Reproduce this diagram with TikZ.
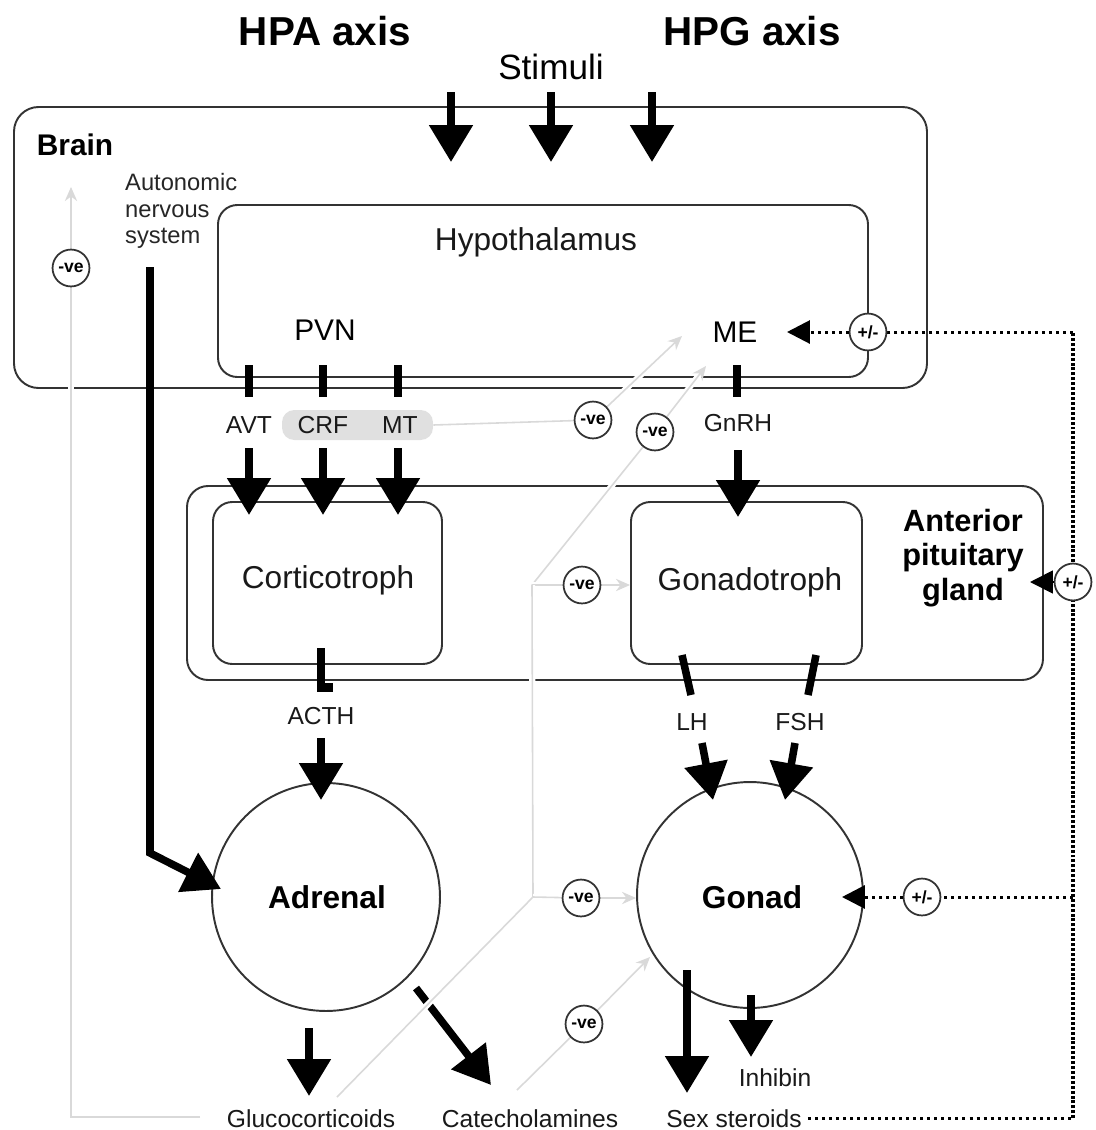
\documentclass[tikz,border=0pt]{standalone}
\usepackage{fontspec}
\setmainfont{Liberation Sans}
\usetikzlibrary{arrows.meta,fit}
\pgfdeclarelayer{bg}
\pgfdeclarelayer{fbl}
\pgfsetlayers{bg,fbl,main}
\begin{document}
\begin{tikzpicture}[x=0.02cm,y=-0.02cm,
  box/.style={draw=black!80, line width=1.1pt, rounded corners=11pt, inner sep=0pt},
  organ/.style={circle, draw=black!80, line width=1.1pt, inner sep=0pt, minimum size=4.56cm},
  bigarr/.style={line width=4.3pt, -{Triangle[width=24pt,length=21pt]}},
  barline/.style={line width=4.3pt},
  sig/.style={circle, draw=black!80, line width=1pt, fill=white, inner sep=0pt, minimum size=21pt, font=\bfseries\fontsize{10}{10}\selectfont},
  fb/.style={draw=black!15, line width=0.9pt, preaction={draw=white, line width=3.5pt, arrows=-}},
  fbarr/.style={fb, -{Stealth[length=8pt,width=7pt]}},
  hdots/.style={line width=1.7pt, dash pattern=on 1.7pt off 2.3pt},
  vdots/.style={line width=2.3pt, dash pattern=on 1.7pt off 1.1pt},
  dtip/.style={-{Triangle[width=13pt,length=13pt]}},
  title/.style={font=\bfseries\fontsize{23}{26}\selectfont},
  lab/.style={font=\fontsize{14}{16}\selectfont, text=black!90},
  mid/.style={font=\fontsize{18}{21}\selectfont, text=black!90},
  organlbl/.style={font=\bfseries\fontsize{18}{20}\selectfont},
]
\useasboundingbox (0,0) rectangle (1096,1130);

% ---------- titles ----------
\node[title] (hpa) at (325,31) {HPA axis};
\node[title] (hpg) at (752,31) {HPG axis};
\node[font=\fontsize{20}{24}\selectfont] (stim) at (551,67) {Stimuli};

% ---------- labels ----------
\node[font=\bfseries\fontsize{17}{20}\selectfont] (brainlbl) at (75,145) {Brain};
\node[anchor=west, align=left, font=\fontsize{13.5}{15}\selectfont, text=black!85] (ans) at (119,211) {Autonomic\\nervous\\system};
\node[mid] (hypolbl) at (536,242) {Hypothalamus};
\node[font=\fontsize{17}{20}\selectfont] (pvn) at (325,330) {PVN};
\node[font=\fontsize{17}{20}\selectfont] (me) at (735,332) {ME};
\node[lab] (avt) at (249,425) {AVT};
\node[lab] (crf) at (323,425) {CRF};
\node[lab] (mt) at (400,425) {MT};
\node[lab] (gnrh) at (738,423) {GnRH};
\node[mid] (corttxt) at (328,580) {Corticotroph};
\node[mid] (gtxt) at (750,582) {Gonadotroph};
\node[font=\bfseries\fontsize{17.5}{19.5}\selectfont, align=center] (apg) at (963,558) {Anterior\\pituitary\\gland};
\node[lab] (acth) at (321,716) {ACTH};
\node[lab] (lh) at (692,722) {LH};
\node[lab] (fsh) at (800,722) {FSH};
\node[organlbl] (adrtxt) at (327,897) {Adrenal};
\node[organlbl] (gontxt) at (752,897) {Gonad};
\node[lab, anchor=base] (gluco) at (311,1127) {Glucocorticoids};
\node[lab, anchor=base] (catech) at (530,1127) {Catecholamines};
\node[lab, anchor=base] (sexst) at (734,1127) {Sex steroids};
\node[lab] (inh) at (775,1078) {Inhibin};

% ---------- sign circles ----------
\node[sig] (n0) at (71,268) {-ve};
\node[sig] (n1) at (593,420) {-ve};
\node[sig] (n2) at (655,432) {-ve};
\node[sig] (n3) at (582,585) {-ve};
\node[sig] (n4) at (581,898) {-ve};
\node[sig] (n5) at (584,1024) {-ve};
\node[sig] (pm1) at (868,332) {+/-};
\node[sig] (pm2) at (1073,582) {+/-};
\node[sig] (pm3) at (922,897) {+/-};

% ---------- boxes and dotted trunk (background layer) ----------
\coordinate (c2) at (1073,332);
\coordinate (c3) at (1073,897);
\coordinate (cat0) at (416,988);
\coordinate (cat1) at (491,1085);
\begin{pgfonlayer}{bg}
\node[box, rounded corners=14pt, fit={(14,107) (927,388)}] (brain) {};
\node[box, fit={(218,205) (868,377)}] (hypo) {};
\node[box, rounded corners=12pt, fit={(187,486) (1043,680)}] (pit) {};
\node[box, fit={(213,502) (442,664)}] (cort) {};
\node[box, fit={(631,502) (862,664)}] (gtroph) {};
\node[organ] (adrenal) at (326,897) {};
\node[organ, minimum size=4.52cm] (gonad) at (750,895) {};
\node[fill=black!12, rounded corners=7pt, inner sep=0pt, fit={(282,410) (433,440)}] (hl) {};
\draw[bigarr] (cat0) -- (cat1);
\draw[hdots] (sexst.east) -- (sexst.east -| c2);
\draw[vdots] (sexst.east -| c2) -- (c2);
\draw[hdots] (c2) -- (pm1);
\draw[hdots] (c3) -- (pm3);
\end{pgfonlayer}

% ---------- faint feedback lines ----------
\coordinate (j1) at (532,585);
\coordinate (j2) at (533,897);
\coordinate (t1) at (682,336);
\coordinate (t2) at (706,366);
\coordinate (g0) at (337,1097);
\coordinate (k0) at (517,1090);
\coordinate (k1) at (650,957);
\coordinate (l0) at (200,1117);
\coordinate (l1) at (71,1117);
\coordinate (l2) at (71,187);
\begin{pgfonlayer}{fbl}
\draw[fb] (hl.east) -- (n1);
\draw[fbarr] (n1) -- (t1);
\draw[fb] (j1) -- (n2);
\draw[fbarr] (n2) -- (t2);
\draw[fb] (j1) -- (n3);
\draw[fbarr] (n3) -- (gtroph.west |- n3);
\draw[fb] (g0) -- (j2) -- (j1);
\draw[fb] (j2) -- (n4);
\draw[fbarr] (n4) -- (n4 -| gonad.west);
\draw[fb] (k0) -- (n5);
\draw[fbarr] (n5) -- (k1);
\draw[fb] (l0) -- (l1) -- (n0);
\draw[fbarr] (n0) -- (l2);
\end{pgfonlayer}

% ---------- stimuli arrows ----------
\coordinate (s1a) at (451,92);  \coordinate (s1b) at (451,162);
\coordinate (s2a) at (551,92);  \coordinate (s2b) at (551,162);
\coordinate (s3a) at (652,92);  \coordinate (s3b) at (652,162);
\draw[bigarr] (s1a) -- (s1b);
\draw[bigarr] (s2a) -- (s2b);
\draw[bigarr] (s3a) -- (s3b);

% ---------- autonomic pathway ----------
\coordinate (au0) at (150,267);
\coordinate (au1) at (150,853);
\coordinate (au2) at (221,889);
\draw[bigarr] (au0) -- (au1) -- (au2);

% ---------- hypothalamic outputs ----------
\coordinate (b1a) at (249,365); \coordinate (b1b) at (249,397);
\coordinate (b2a) at (323,365); \coordinate (b2b) at (323,397);
\coordinate (b3a) at (398,365); \coordinate (b3b) at (398,397);
\coordinate (b4a) at (737,365); \coordinate (b4b) at (737,397);
\draw[barline] (b1a) -- (b1b);
\draw[barline] (b2a) -- (b2b);
\draw[barline] (b3a) -- (b3b);
\draw[barline] (b4a) -- (b4b);
\coordinate (a1a) at (249,448); \coordinate (a1b) at (249,515);
\coordinate (a2a) at (323,448); \coordinate (a2b) at (323,515);
\coordinate (a3a) at (398,448); \coordinate (a3b) at (398,515);
\coordinate (a4a) at (738,450); \coordinate (a4b) at (738,517);
\draw[bigarr] (a1a) -- (a1b);
\draw[bigarr] (a2a) -- (a2b);
\draw[bigarr] (a3a) -- (a3b);
\draw[bigarr] (a4a) -- (a4b);

% ---------- pituitary outputs ----------
\coordinate (ac0) at (321,648); \coordinate (ac1) at (321,692);
\draw[barline] (ac0) -- (ac1);
\coordinate (acf0) at (317,683); \coordinate (acf1) at (333,692);
\fill (acf0) rectangle (acf1);
\coordinate (lh0) at (682,655); \coordinate (lh1) at (691,695);
\coordinate (fs0) at (816,655); \coordinate (fs1) at (808,695);
\draw[barline] (lh0) -- (lh1);
\draw[barline] (fs0) -- (fs1);
\coordinate (aca) at (321,738); \coordinate (acb) at (321,800);
\coordinate (lha) at (702,743); \coordinate (lhb) at (713,800);
\coordinate (fsa) at (795,743); \coordinate (fsb) at (785,800);
\draw[bigarr] (aca) -- (acb);
\draw[bigarr] (lha) -- (lhb);
\draw[bigarr] (fsa) -- (fsb);

% ---------- organ outputs ----------
\coordinate (gl0) at (309,1028); \coordinate (gl1) at (309,1096);
\coordinate (ss0) at (687,970);  \coordinate (ss1) at (687,1093);
\coordinate (in0) at (751,995);  \coordinate (in1) at (751,1057);
\draw[bigarr] (gl0) -- (gl1);
\draw[bigarr] (ss0) -- (ss1);
\draw[bigarr] (in0) -- (in1);

% ---------- dotted +/- feedback tips ----------
\coordinate (metip) at (787,332);
\coordinate (pittip) at (1030,582);
\coordinate (gontip) at (842,897);
\draw[hdots, dtip] (pm1) -- (metip);
\draw[dtip, line width=1pt] (pm2) -- (pittip);
\draw[hdots, dtip] (pm3) -- (gontip);
\end{tikzpicture}
\end{document}
